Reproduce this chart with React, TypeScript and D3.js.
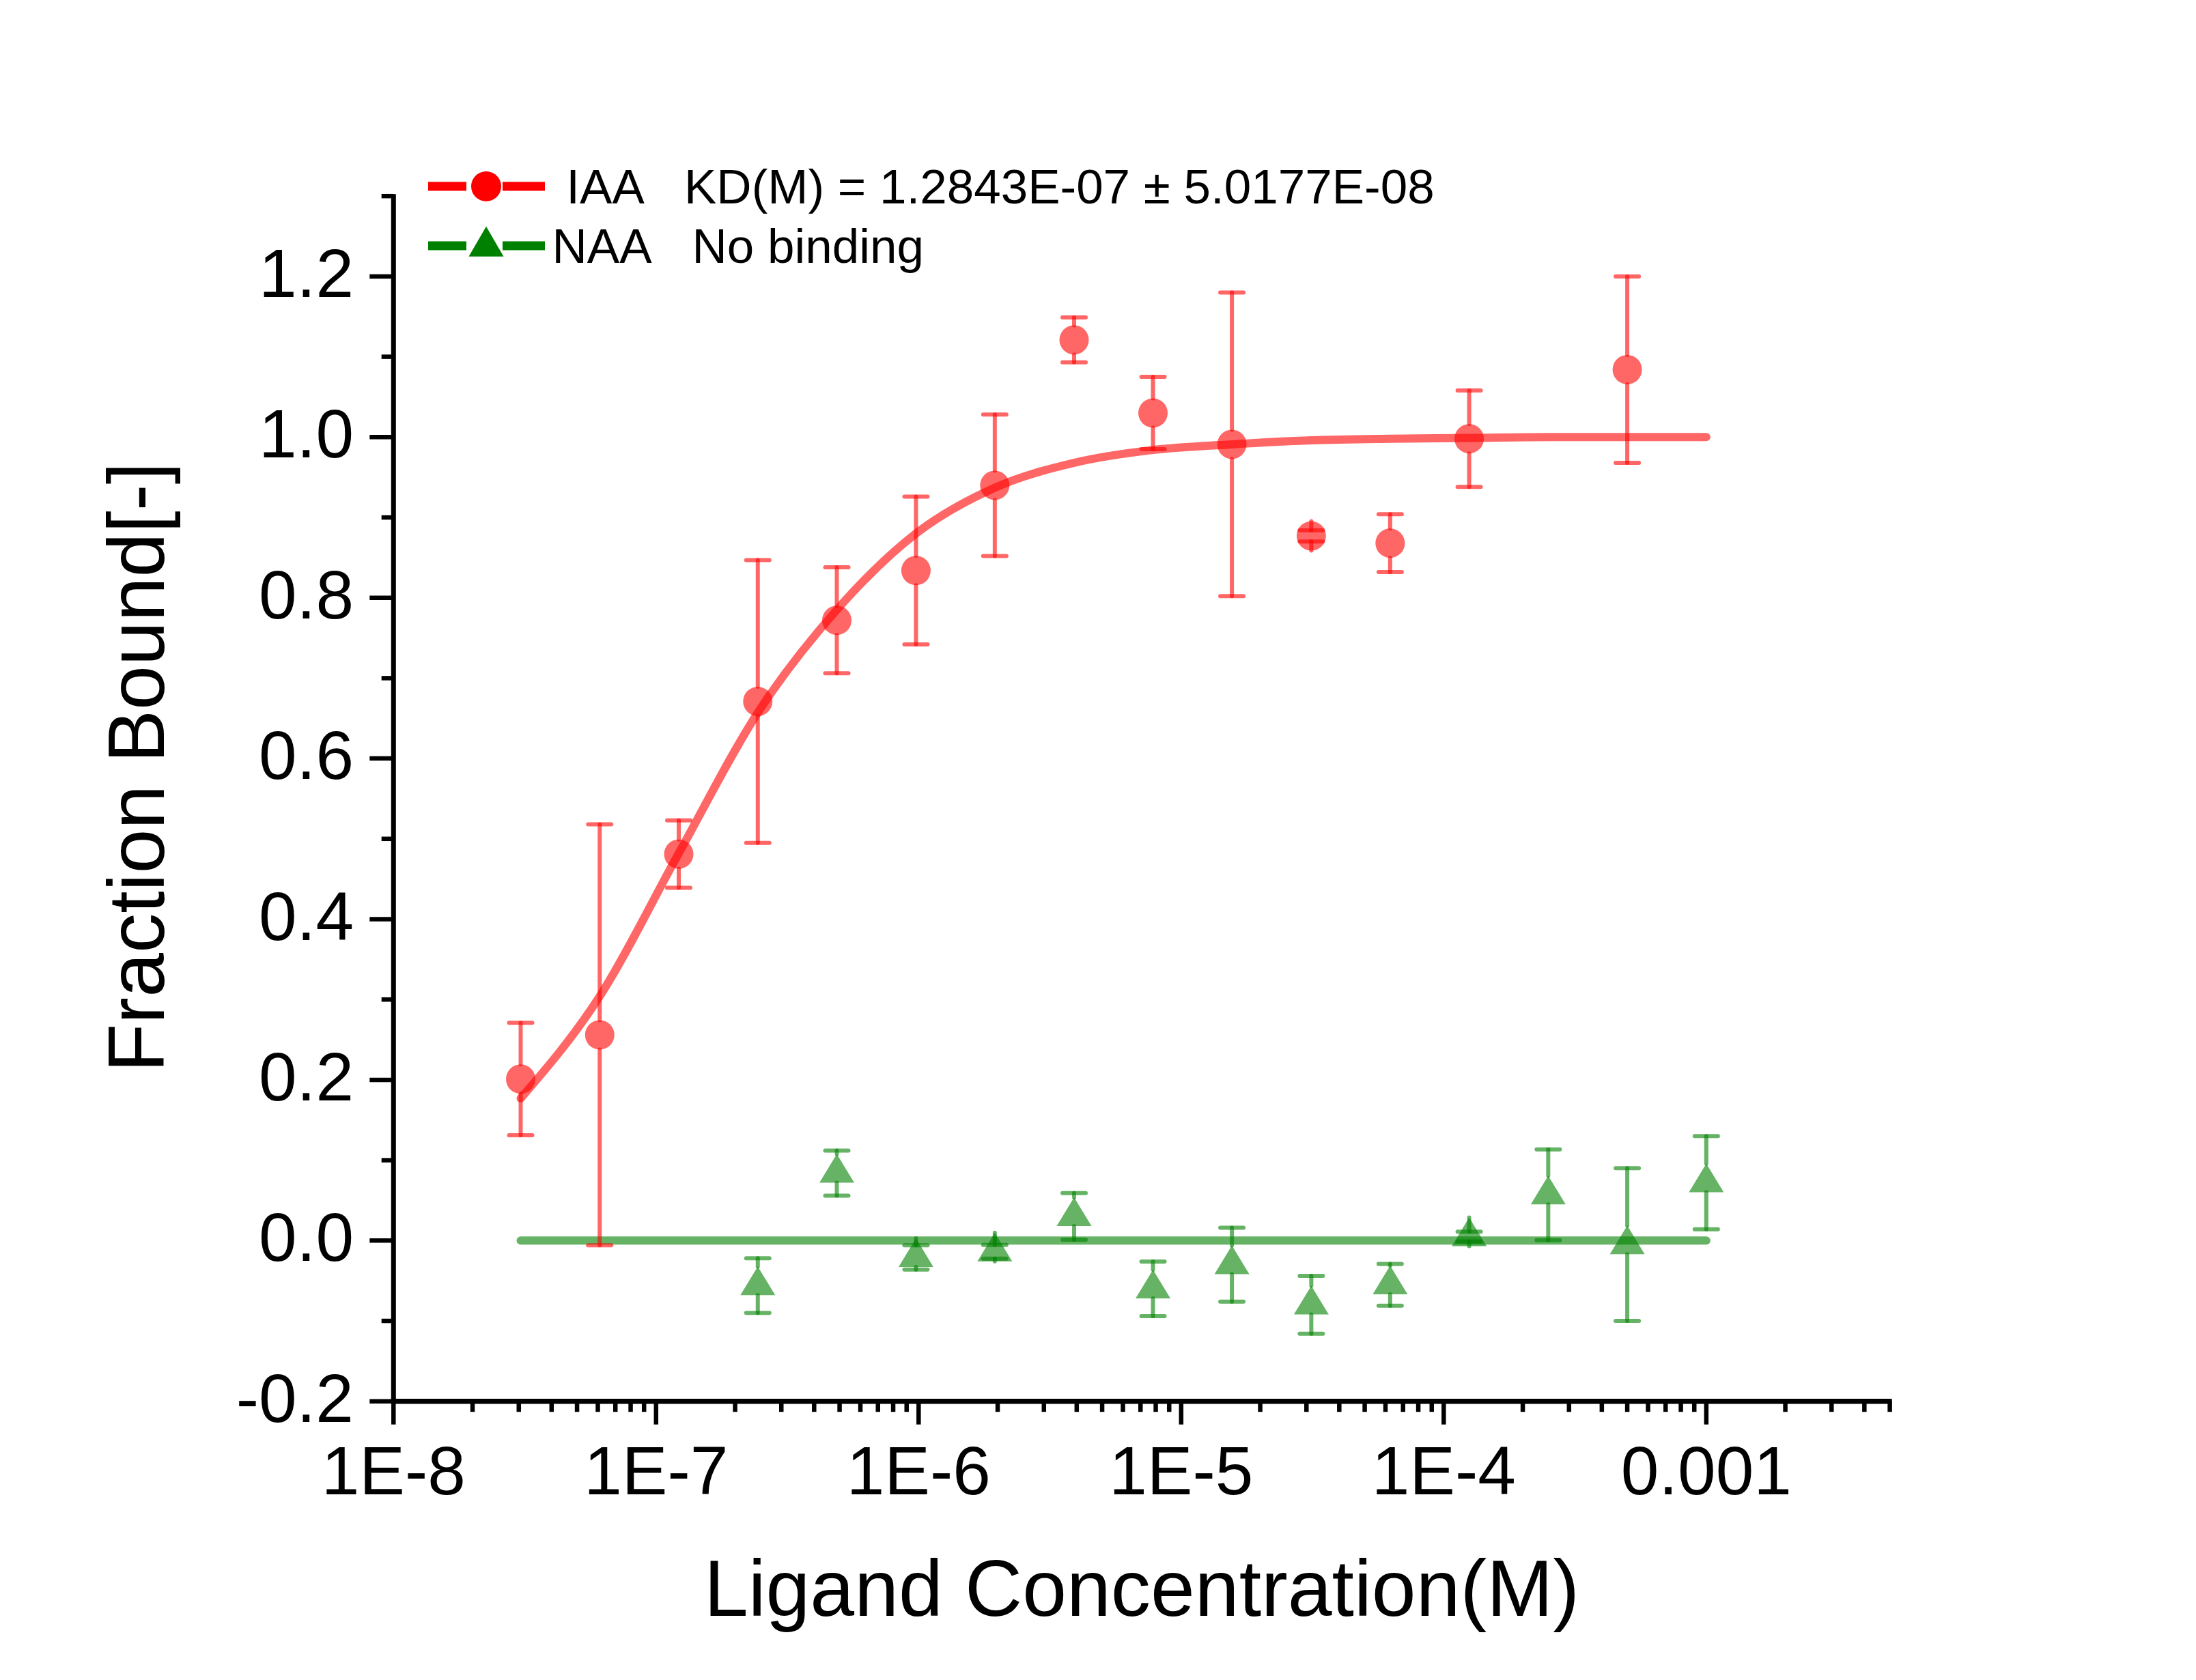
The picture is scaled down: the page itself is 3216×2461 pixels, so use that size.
import React from 'react';
import * as d3 from 'd3';

// ---------- data ----------
const iaaConc = [3.05e-8, 6.1e-8, 1.22e-7, 2.44e-7, 4.88e-7, 9.77e-7, 1.95e-6, 3.91e-6, 7.81e-6, 1.56e-5, 3.13e-5, 6.25e-5, 1.25e-4, 5e-4];
const iaaVal = [0.201, 0.256, 0.481, 0.671, 0.772, 0.834, 0.940, 1.121, 1.030, 0.991, 0.877, 0.868, 0.998, 1.084];
const iaaErr = [0.070, 0.262, 0.042, 0.176, 0.066, 0.092, 0.088, 0.028, 0.045, 0.189, 0.007, 0.036, 0.060, 0.116];

const naaConc = [2.44e-7, 4.88e-7, 9.77e-7, 1.95e-6, 3.91e-6, 7.81e-6, 1.56e-5, 3.13e-5, 6.25e-5, 1.25e-4, 2.5e-4, 5e-4, 1e-3];
const naaVal = [-0.056, 0.084, -0.021, -0.014, 0.030, -0.060, -0.030, -0.080, -0.055, 0.005, 0.057, -0.005, 0.072];
const naaErr = [0.034, 0.028, 0.015, 0.0085, 0.029, 0.034, 0.046, 0.036, 0.026, 0.006, 0.0565, 0.095, 0.058];

const fitConc = [3.05e-8, 6.1e-8, 1.22e-7, 2.44e-7, 4.88e-7, 9.77e-7, 1.95e-6, 3.91e-6, 7.81e-6, 1.56e-5, 3.13e-5, 6.25e-5, 1.25e-4, 2.5e-4, 5e-4, 1e-3];
const fitIAA = [0.177, 0.304, 0.482, 0.657, 0.785, 0.880, 0.937, 0.968, 0.984, 0.991, 0.996, 0.998, 0.999, 1.0, 1.0, 1.0];
const fitNAAConc = [3.05e-8, 1e-3];
const fitNAA = [0, 0];

const xMajorTicks = [1e-8, 1e-7, 1e-6, 1e-5, 1e-4, 1e-3];
const xTickLabels = ['1E-8', '1E-7', '1E-6', '1E-5', '1E-4', '0.001'];
const yMajorTicks = [-0.2, 0, 0.2, 0.4, 0.6, 0.8, 1.0, 1.2];
const yTickLabels = ['-0.2', '0.0', '0.2', '0.4', '0.6', '0.8', '1.0', '1.2'];
const yMinorTicks = [-0.1, 0.1, 0.3, 0.5, 0.7, 0.9, 1.1, 1.3];

const legendLabels = ['IAA', 'NAA'];
const legendNotes = ['KD(M) = 1.2843E-07 \u00B1 5.0177E-08', 'No binding'];

const xTitle = 'Ligand Concentration(M)';
const yTitle = 'Fraction Bound[-]';

// ---------- styles ----------
const FONT = "'Liberation Sans', Arial, Helvetica, sans-serif";
const RED = '#FF0000';
const GREEN = '#008000';
const OP = 0.6;
const CIRCLE_R = 21.5;
const TRI_H = 42;
const TRI_W = 51;

function triPath(cx: number, cy: number, h: number, w: number) {
  return `M${cx},${cy - (2 * h) / 3}L${cx + w / 2},${cy + h / 3}L${cx - w / 2},${cy + h / 3}Z`;
}

function ErrorBar({ cx, cy, yTop, yBot, upOff, downOff, color }: any) {
  const capHalf = 17;
  const sw = 6;
  const common = { stroke: color, strokeOpacity: OP, strokeWidth: sw, strokeLinecap: 'round' as const };
  return (
    <g>
      <line x1={cx} x2={cx} y1={cy - upOff} y2={yTop} {...common} />
      <line x1={cx - capHalf} x2={cx + capHalf} y1={yTop} y2={yTop} {...common} />
      <line x1={cx} x2={cx} y1={cy + downOff} y2={yBot} {...common} />
      <line x1={cx - capHalf} x2={cx + capHalf} y1={yBot} y2={yBot} {...common} />
    </g>
  );
}

export default function App() {
  const W = 3216;
  const H = 2461;
  const x = d3.scaleLog().domain([1e-8, 5e-3]).range([576.3, 2767.6]);
  const y = d3.scaleLinear().domain([-0.2, 1.3]).range([2052.7, 287.2]);

  const x0 = x.range()[0];
  const x1 = x.range()[1];
  const yb = y.range()[0];
  const yt = y.range()[1];

  const allXTicks = x.ticks();
  const isMajor = (t: number) => Math.abs(Math.log10(t) - Math.round(Math.log10(t))) < 1e-6;
  const xMinor = allXTicks.filter((t) => !isMajor(t));

  const line = d3
    .line<[number, number]>()
    .x((d) => x(d[0]))
    .y((d) => y(d[1]))
    .curve(d3.curveMonotoneX);

  const iaaFit = line(fitConc.map((c, i) => [c, fitIAA[i]] as [number, number])) || '';
  const naaFit = d3
    .line<[number, number]>()
    .x((d) => x(d[0]))
    .y((d) => y(d[1]))(fitNAAConc.map((c, i) => [c, fitNAA[i]] as [number, number])) || '';

  const axisStroke = { stroke: '#000', strokeWidth: 7 };
  const tickStroke = { stroke: '#000', strokeWidth: 6.5 };

  // legend geometry
  const legY = [273, 360];
  const legSeg = [
    [627, 683],
    [736, 798],
  ];
  const legMarkX = 712;
  const legTextX = [829.3, 808.5];
  const legNoteX = [1002, 1013.6];
  const legBase = [297.5, 385];

  return (
    <svg
      width={W}
      height={H}
      viewBox={`0 0 ${W} ${H}`}
      style={{ position: 'absolute', left: 0, top: 0, background: '#fff' }}
      fontFamily={FONT}
    >
      <rect x={0} y={0} width={W} height={H} fill="#fff" />

      {/* NAA series */}
      <path d={naaFit} fill="none" stroke={GREEN} strokeOpacity={OP} strokeWidth={12} strokeLinecap="round" />
      {naaConc.map((c, i) => {
        const cx = x(c);
        const cy = y(naaVal[i]);
        return (
          <g key={'n' + i}>
            <ErrorBar
              cx={cx}
              cy={cy}
              yTop={y(naaVal[i] + naaErr[i])}
              yBot={y(naaVal[i] - naaErr[i])}
              upOff={(2 * TRI_H) / 3}
              downOff={TRI_H / 3}
              color={GREEN}
            />
            <path d={triPath(cx, cy, TRI_H, TRI_W)} fill={GREEN} fillOpacity={OP} />
          </g>
        );
      })}

      {/* IAA series */}
      <path d={iaaFit} fill="none" stroke={RED} strokeOpacity={OP} strokeWidth={12} strokeLinecap="round" />
      {iaaConc.map((c, i) => {
        const cx = x(c);
        const cy = y(iaaVal[i]);
        return (
          <g key={'i' + i}>
            <ErrorBar
              cx={cx}
              cy={cy}
              yTop={y(iaaVal[i] + iaaErr[i])}
              yBot={y(iaaVal[i] - iaaErr[i])}
              upOff={CIRCLE_R}
              downOff={CIRCLE_R}
              color={RED}
            />
            <circle cx={cx} cy={cy} r={CIRCLE_R} fill={RED} fillOpacity={OP} />
          </g>
        );
      })}

      {/* axes */}
      <line x1={x0} x2={x0} y1={yt - 3} y2={yb + 3.5} {...axisStroke} />
      <line x1={x0 - 3.5} x2={x1 + 3} y1={yb} y2={yb} {...axisStroke} strokeWidth={7.5} />

      {/* y ticks */}
      {yMajorTicks.map((v, i) => (
        <g key={'ym' + i}>
          <line x1={x0 - 35} x2={x0} y1={y(v)} y2={y(v)} {...tickStroke} />
          <text x={518} y={y(v) + 30} fontSize={100} textAnchor="end" fill="#000">
            {yTickLabels[i]}
          </text>
        </g>
      ))}
      {yMinorTicks.map((v, i) => (
        <line key={'yn' + i} x1={x0 - 17.6} x2={x0} y1={y(v)} y2={y(v)} {...tickStroke} />
      ))}

      {/* x ticks */}
      {xMajorTicks.map((v, i) => (
        <g key={'xm' + i}>
          <line x1={x(v)} x2={x(v)} y1={yb} y2={yb + 34} {...tickStroke} />
          <text x={x(v)} y={2189} fontSize={100} textAnchor="middle" fill="#000">
            {xTickLabels[i]}
          </text>
        </g>
      ))}
      {xMinor.map((v, i) => (
        <line key={'xn' + i} x1={x(v)} x2={x(v)} y1={yb} y2={yb + 15.5} {...tickStroke} />
      ))}

      {/* axis titles */}
      <text x={1672} y={2367} fontSize={116.5} textAnchor="middle" fill="#000">
        {xTitle}
      </text>
      <text
        x={0}
        y={0}
        transform={`translate(240,1124) rotate(-90)`}
        fontSize={116.5}
        textAnchor="middle"
        fill="#000"
      >
        {yTitle}
      </text>

      {/* legend */}
      {[0, 1].map((k) => {
        const col = k === 0 ? RED : GREEN;
        return (
          <g key={'lg' + k}>
            {legSeg.map((s, j) => (
              <line key={j} x1={s[0]} x2={s[1]} y1={legY[k]} y2={legY[k]} stroke={col} strokeWidth={13} />
            ))}
            {k === 0 ? (
              <circle cx={legMarkX} cy={legY[k]} r={22} fill={col} />
            ) : (
              <path d={triPath(legMarkX, legY[k] + 1, 44, 51)} fill={col} />
            )}
            <text x={legTextX[k]} y={legBase[k]} fontSize={71} fill="#000">
              {legendLabels[k]}
            </text>
            <text x={legNoteX[k]} y={legBase[k]} fontSize={71} fill="#000">
              {legendNotes[k]}
            </text>
          </g>
        );
      })}
    </svg>
  );
}
